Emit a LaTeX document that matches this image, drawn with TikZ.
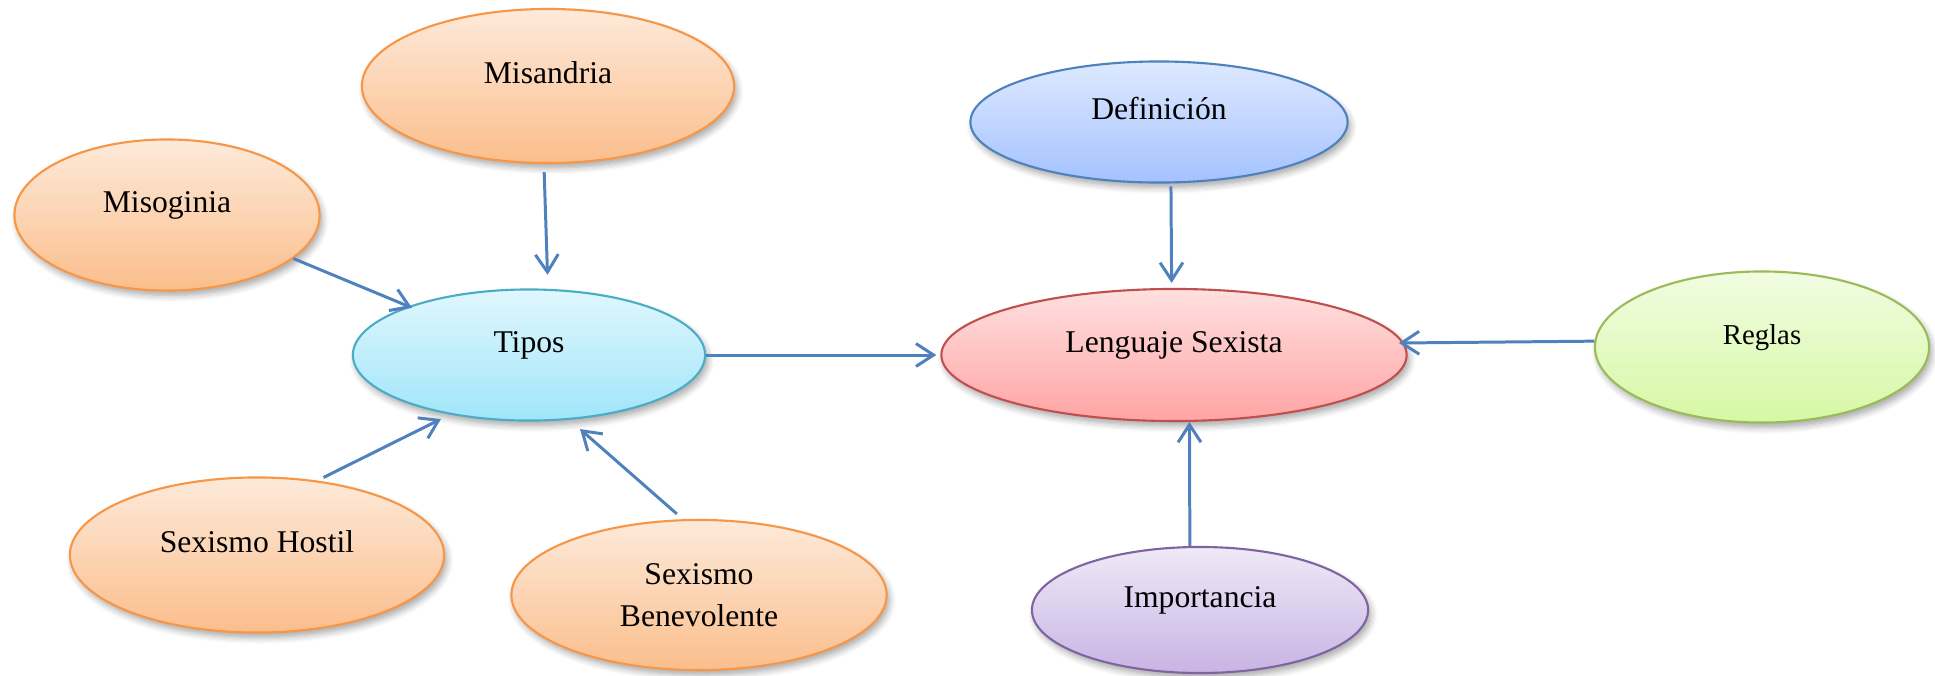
\documentclass[tikz,border=0pt]{standalone}
\usepackage{fontspec}
\setmainfont{Liberation Serif}
\usetikzlibrary{shapes.geometric,arrows.meta,shadows.blur}
\definecolor{flechaAzul}{RGB}{79,129,189}
\definecolor{narBorde}{RGB}{247,150,70}
\definecolor{narArriba}{RGB}{253,234,218}
\definecolor{narAbajo}{RGB}{251,190,140}
\definecolor{cianBorde}{RGB}{75,172,198}
\definecolor{cianArriba}{RGB}{224,247,253}
\definecolor{cianAbajo}{RGB}{160,229,250}
\definecolor{rojoBorde}{RGB}{192,80,77}
\definecolor{rojoArriba}{RGB}{255,224,224}
\definecolor{rojoAbajo}{RGB}{255,164,164}
\definecolor{azulBorde}{RGB}{79,129,189}
\definecolor{azulArriba}{RGB}{222,233,255}
\definecolor{azulAbajo}{RGB}{164,194,255}
\definecolor{verdeBorde}{RGB}{155,187,89}
\definecolor{verdeArriba}{RGB}{241,252,226}
\definecolor{verdeAbajo}{RGB}{214,248,164}
\definecolor{moradoBorde}{RGB}{128,100,162}
\definecolor{moradoArriba}{RGB}{239,233,247}
\definecolor{moradoAbajo}{RGB}{200,180,228}
\begin{document}
\begin{tikzpicture}[x=0.01cm,y=-0.01cm,
burbuja/.style={ellipse,draw,line width=0.6pt,inner sep=0pt,align=center,
  font=\fontsize{9}{12}\selectfont,
  blur shadow={shadow xshift=0.8pt,shadow yshift=-1.4pt,shadow blur steps=6,shadow opacity=35}},
unalinea/.style={text height=7pt,text depth=8.4pt},
naranja/.style={burbuja,draw=narBorde,top color=narArriba,bottom color=narAbajo},
cian/.style={burbuja,draw=cianBorde,top color=cianArriba,bottom color=cianAbajo},
rojo/.style={burbuja,draw=rojoBorde,top color=rojoArriba,bottom color=rojoAbajo},
azul/.style={burbuja,draw=azulBorde,top color=azulArriba,bottom color=azulAbajo},
verde/.style={burbuja,draw=verdeBorde,top color=verdeArriba,bottom color=verdeAbajo},
morado/.style={burbuja,draw=moradoBorde,top color=moradoArriba,bottom color=moradoAbajo},
flecha/.style={draw=flechaAzul,line width=0.85pt,-{Straight Barb[length=5pt,width=6.5pt]}}]
\useasboundingbox (0,0) rectangle (1935,675);
\node[naranja,unalinea,minimum width=3.72cm,minimum height=1.54cm] (misandria) at (548,86) {Misandria};
\node[naranja,unalinea,minimum width=3.05cm,minimum height=1.51cm] (misoginia) at (167,215) {Misoginia};
\node[cian,unalinea,minimum width=3.52cm,minimum height=1.31cm] (tipos) at (529,355) {Tipos};
\node[naranja,unalinea,minimum width=3.74cm,minimum height=1.55cm] (hostil) at (257,555) {Sexismo Hostil};
\node[naranja,minimum width=3.75cm,minimum height=1.50cm] (benevolente) at (699,595) {Sexismo\\Benevolente};
\node[azul,unalinea,minimum width=3.77cm,minimum height=1.21cm] (definicion) at (1159,122) {Definición};
\node[rojo,unalinea,minimum width=4.65cm,minimum height=1.32cm] (lenguaje) at (1174,355) {Lenguaje Sexista};
\node[verde,unalinea,minimum width=3.34cm,minimum height=1.51cm,font=\fontsize{8.2}{10}\selectfont] (reglas) at (1762,347) {Reglas};
\node[morado,unalinea,minimum width=3.36cm,minimum height=1.26cm] (importancia) at (1200,610) {Importancia};
\draw[flecha,shorten <=0.08cm,shorten >=0.14cm] (misandria.267) -- (tipos.74);
\draw[flecha,shorten >=-0.04cm] (misoginia.-19) -- (tipos.158.5);
\draw[flecha,shorten >=0.04cm] (tipos) -- (lenguaje);
\draw[flecha,shorten <=0.07cm,shorten >=0.10cm] (hostil.51) -- (tipos.217);
\draw[flecha,shorten <=0.08cm,shorten >=0.14cm] (benevolente.102) -- (tipos.302);
\draw[flecha,shorten <=0.03cm,shorten >=0.05cm] (definicion.281) -- (lenguaje.92);
\draw[flecha,shorten >=-0.05cm] (reglas.178) -- (lenguaje.3);
\draw[flecha] (importancia.99) -- (lenguaje.283);
\end{tikzpicture}
\end{document}
